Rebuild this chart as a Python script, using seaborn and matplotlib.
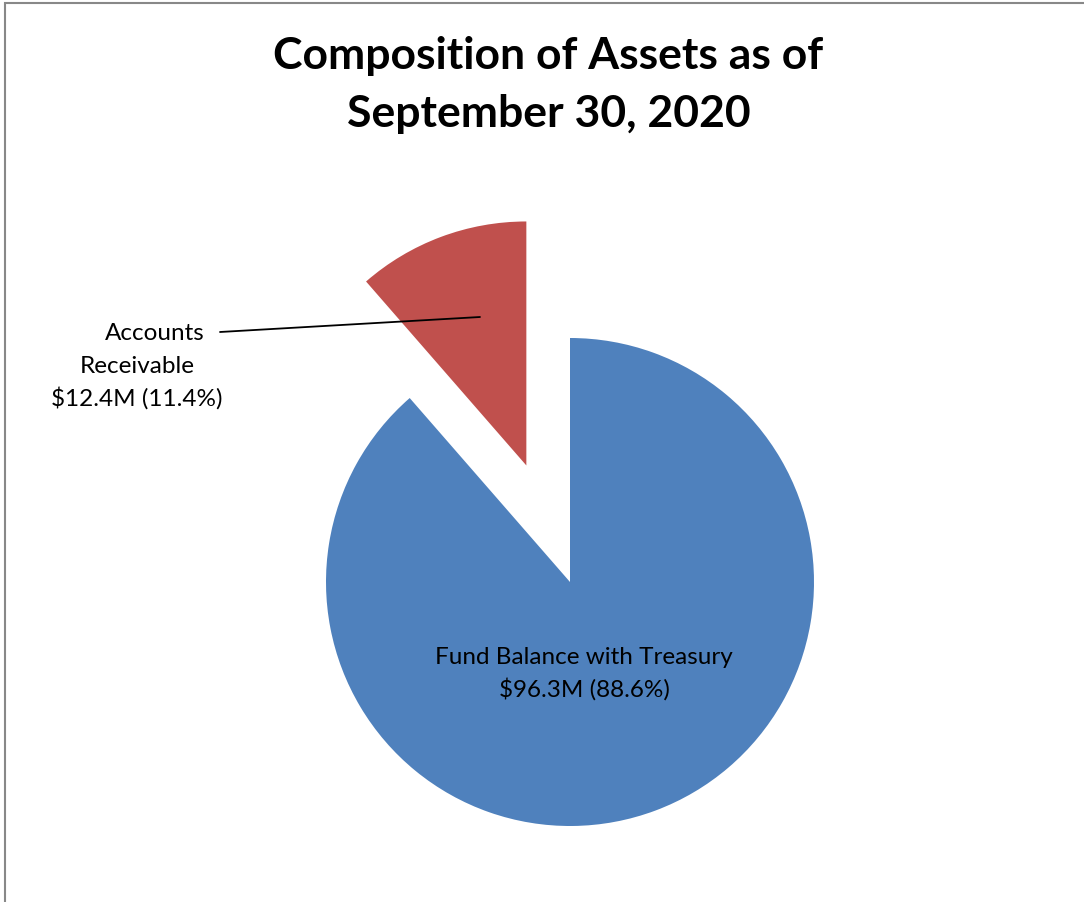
import matplotlib
matplotlib.use("Agg")
import matplotlib.pyplot as plt
import seaborn as sns
from matplotlib.patches import Rectangle

# chart data
categories = ["Fund Balance with Treasury", "Accounts Receivable"]
amounts = [96.3, 12.4]          # $M
percents = [88.6, 11.4]
slice_colors = ["#4F81BD", "#C0504D"]
explode = [0, 0.51]

sns.set_style("white")
plt.rcParams["font.family"] = ["Lato", "DejaVu Sans"]
plt.rcParams["text.color"] = "black"

W, H = 1084, 903
R = 244                      # pie radius in pixels
cx, cy = 570, 583            # pie centre (pixels from top-left)

fig = plt.figure(figsize=(W / 100, H / 100), dpi=100)
ax = fig.add_axes([0, 0, 1, 1])

ax.pie(amounts, colors=slice_colors, startangle=90, counterclock=False,
       explode=explode, radius=1, wedgeprops=dict(linewidth=0))

# map axes units so that radius 1 = R pixels and centre lands at (cx, cy)
ax.set_xlim(-cx / R, (W - cx) / R)
ax.set_ylim(-(H - cy) / R, cy / R)
ax.set_aspect("auto")
ax.axis("off")

def px(x, y):
    return (x - cx) / R, (cy - y) / R

# labels
ax.text(*px(584, 674), f"{categories[0]}\n${amounts[0]}M ({percents[0]}%)",
        ha="center", va="center", fontsize=17.5, linespacing=1.5, color="black")
ar_first, ar_second = categories[1].split(" ")
ax.text(*px(155, 333), ar_first, ha="center", va="center", fontsize=17.5,
        color="black")
ax.text(*px(137, 383), f"{ar_second}\n${amounts[1]}M ({percents[1]}%)",
        ha="center", va="center", fontsize=17.5, linespacing=1.5, color="black")
x0, y0 = px(220, 333)
x1, y1 = px(480, 318)
ax.plot([x0, x1], [y0, y1], color="black", linewidth=1.3)

fig.text(0.506, 1 - 85 / H, "Composition of Assets as of\nSeptember 30, 2020",
         ha="center", va="center", fontsize=32, fontweight="bold",
         linespacing=1.55, color="black")

# chart border (only left/top visible in the crop)
fig.patches.append(Rectangle((4.5 / W, -0.1), 1.2, 1 - 3.5 / H + 0.1,
                             transform=fig.transFigure, fill=False,
                             edgecolor="#888888", linewidth=1.5))

fig.savefig("out.png", dpi=100)
